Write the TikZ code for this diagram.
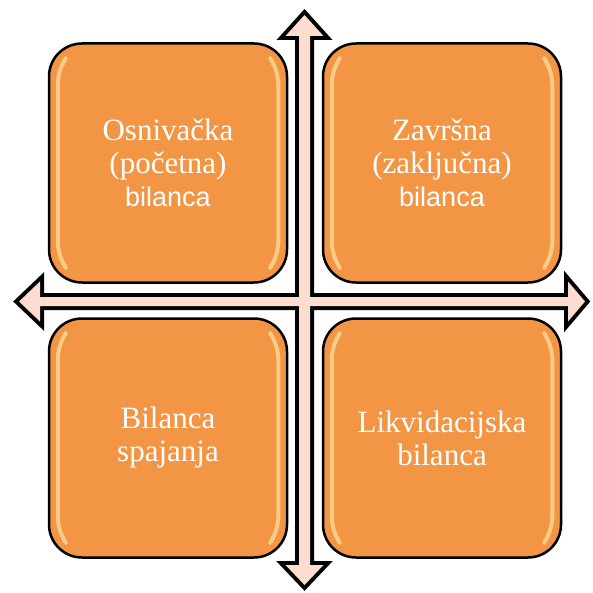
\documentclass[tikz,border=0pt]{standalone}
\usepackage{fontspec}
\setmainfont{Liberation Serif}
\setsansfont{Liberation Sans}
\usetikzlibrary{positioning}
\definecolor{myorange}{RGB}{242,149,68}
\definecolor{mypink}{RGB}{252,221,208}
\definecolor{mygloss}{RGB}{255,232,170}
\tikzset{
  box/.style={draw=black, fill=myorange, line width=2.5, rounded corners=33,
    minimum width=238, minimum height=239, text=white, align=center,
    font=\fontsize{31}{33}\selectfont},
  gloss/.style={draw=mygloss, line width=4, line cap=round, opacity=0.65},
  arrowline/.style={draw=black, line width=8, line join=miter},
  arrowfill/.style={fill=mypink}
}
\newcommand{\sanstext}[1]{{\sffamily\fontsize{27}{33}\selectfont #1}}

\begin{document}
\begin{tikzpicture}[x=1pt,y=-1pt]
\useasboundingbox (0,0) rectangle (592,593);
%cross
\foreach \st in {arrowline,arrowfill}{
  \path[\st] (19,301.5) -- (40,281.5) -- (40,297) -- (568,297) -- (568,281.5)
    -- (585,301.5) -- (568,321.5) -- (568,306) -- (40,306) -- (40,321.5) -- cycle;
  \path[\st] (304.5,15) -- (323.5,36) -- (310,36) -- (310,565) -- (323.5,565)
    -- (304.5,585) -- (285.5,565) -- (299,565) -- (299,36) -- (285.5,36) -- cycle;
}

\node [box] (osnivacka) at (168,163) {Osnivačka\\(početna)\\\sanstext{bilanca}};
\node [box] (zavrsna) at (442,163) {Završna\\(zaključna)\\\sanstext{bilanca}};
\node [box] (spajanje) at (168,438) {Bilanca\\spajanja};
\node [box] (likvidacija) at (442,438) {Likvidacijska\\bilanca};

%gloss
\foreach \b in {osnivacka,zavrsna,spajanje,likvidacija}{
  \draw[gloss] ([xshift=18,yshift=-16]\b.north west) to[bend right=12] ([xshift=10,yshift=-40]\b.north west)
    -- ([xshift=10,yshift=40]\b.south west) to[bend right=12] ([xshift=18,yshift=16]\b.south west);
  \draw[gloss] ([xshift=-18,yshift=-16]\b.north east) to[bend left=12] ([xshift=-10,yshift=-40]\b.north east)
    -- ([xshift=-10,yshift=40]\b.south east) to[bend left=12] ([xshift=-18,yshift=16]\b.south east);
}
\end{tikzpicture}
\end{document}
